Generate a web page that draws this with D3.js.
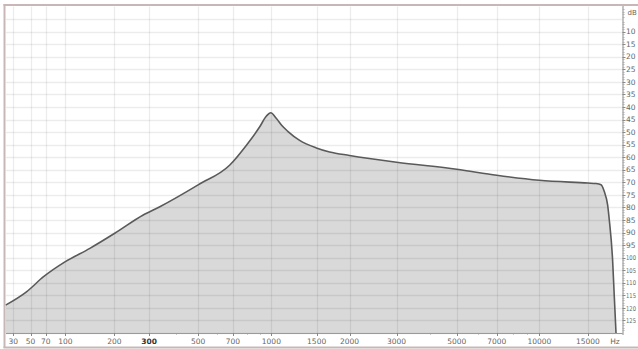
<!DOCTYPE html>
<html><head><meta charset="utf-8">
<script src="https://cdn.jsdelivr.net/npm/d3@7"></script>
<style>
html,body{margin:0;padding:0;background:#fff;}
svg{display:block;}
text{font-family:"DejaVu Sans","Liberation Sans",sans-serif;}
</style></head>
<body>
<svg id="c" width="638" height="349"></svg>
<script>
// ---- data ----
const freqs = [22, 45, 67, 100, 145, 201, 281, 337, 500, 680, 795, 899, 956, 994, 1047, 1100, 1160, 1290, 1496, 1681, 2000, 3000, 5000, 7000, 10000, 15000, 16040, 16730, 17190, 17670, 17920, 18420, 18680, 18950];
const levels = [-118.9, -113.6, -107.6, -101.6, -96.3, -90.3, -83.0, -79.7, -71.0, -63.1, -55.2, -47.9, -43.6, -42.3, -44.6, -47.4, -49.7, -53.3, -56.3, -57.9, -59.3, -62.0, -64.8, -67.2, -69.2, -70.3, -70.5, -71.0, -73.7, -79.0, -85.0, -101.0, -115.5, -130.0];
const freqTicks = [30, 50, 70, 100, 200, 300, 500, 700, 1000, 1500, 2000, 3000, 5000, 7000, 10000, 15000];
const freqMinor = [400, 600, 800, 900, 4000, 6000, 8000, 9000];
const dbTicks = [-10, -15, -20, -25, -30, -35, -40, -45, -50, -55, -60, -65, -70, -75, -80, -85, -90, -95, -100, -105, -110, -115, -120, -125];

// ---- layout ----
const L = 6, R = 622.5, T = 6.5, B = 333;
const svg = d3.select("#c");
const x = d3.scaleSymlog().constant(100).domain([22.4, 20000]).range([L, R]);
const y = d3.scaleLinear().domain([0, -130]).range([T, B]);

svg.append("rect").attr("x",0).attr("y",0).attr("width",638).attr("height",349).attr("fill","#fff");

const pts = freqs.map((f,i)=>[f, levels[i]]);
const area = d3.area().x(d=>x(d[0])).y0(B).y1(d=>y(d[1])).curve(d3.curveMonotoneX);
svg.append("path").datum(pts).attr("d", area).attr("fill","#d9d9d9");

// grid
const grid = svg.append("g").attr("stroke","rgba(0,0,0,0.075)").attr("stroke-width",1.3);
d3.range(-5, -131, -5).forEach(v=>{
  grid.append("line").attr("x1",L).attr("x2",R).attr("y1",Math.round(y(v))+0.5).attr("y2",Math.round(y(v))+0.5);
});
freqTicks.forEach(f=>{
  const xx = Math.round(x(f))+0.5;
  grid.append("line").attr("x1",xx).attr("x2",xx).attr("y1",T).attr("y2",B);
});

// curve
const line = d3.line().x(d=>x(d[0])).y(d=>y(d[1])).curve(d3.curveMonotoneX);
svg.append("path").datum(pts).attr("d", line).attr("fill","none").attr("stroke","#5a5a5a").attr("stroke-width",1.6).attr("stroke-linejoin","round");

// bottom axis
const gx = svg.append("g");
gx.append("line").attr("x1",L).attr("x2",R).attr("y1",B+0.5).attr("y2",B+0.5).attr("stroke","#9a9a9a");
freqTicks.forEach(f=>{
  const xx = Math.round(x(f))+0.5;
  gx.append("line").attr("x1",xx).attr("x2",xx).attr("y1",B).attr("y2",B+3).attr("stroke","#888");
  gx.append("text").attr("x",x(f)).attr("y",344).attr("text-anchor","middle")
    .attr("font-size",7.5).attr("fill", f===300 ? "#333" : "#666")
    .attr("font-weight", f===300 ? "bold" : "normal").text(d3.format("d")(f));
});
freqMinor.forEach(f=>{
  const xx = Math.round(x(f))+0.5;
  gx.append("line").attr("x1",xx).attr("x2",xx).attr("y1",B).attr("y2",B+1.5).attr("stroke","#999");
});
gx.append("text").attr("x",615).attr("y",344).attr("text-anchor","middle").attr("font-size",7.5).attr("fill","#666").text("Hz");

// right axis
const gy = svg.append("g");
gy.append("line").attr("x1",R+0.5).attr("x2",R+0.5).attr("y1",T-1).attr("y2",B+2).attr("stroke","#8a8a8a");
d3.range(-1, -131, -1).forEach(v=>{
  if (v % 5 === 0) return;
  const yy = Math.round(y(v))+0.5;
  gy.append("line").attr("x1",R).attr("x2",R+2).attr("y1",yy).attr("y2",yy).attr("stroke","#b0b0b0");
});
dbTicks.forEach(v=>{
  const yy = Math.round(y(v))+0.5;
  gy.append("line").attr("x1",R).attr("x2",R+3).attr("y1",yy).attr("y2",yy).attr("stroke","#888");
  const big = Math.abs(v) >= 100;
  const t = gy.append("text").attr("x",R+3.5).attr("y",y(v)+2.7)
    .attr("font-size", big ? 6.5 : 7.5).attr("fill","#666").text(Math.abs(v));
  if (big) t.attr("textLength",10).attr("lengthAdjust","spacingAndGlyphs");
});
gy.append("text").attr("x",R+5).attr("y",15).attr("font-size",7).attr("fill","#666").text("dB");

// frame
const fr = svg.append("g").attr("stroke","#c9b7b7").attr("stroke-width",2).attr("fill","none");
fr.append("line").attr("x1",3.5).attr("x2",638).attr("y1",5).attr("y2",5);
fr.append("line").attr("x1",4.5).attr("x2",4.5).attr("y1",4).attr("y2",348);
fr.append("line").attr("x1",3.5).attr("x2",638).attr("y1",347.5).attr("y2",347.5);
</script>
</body></html>
